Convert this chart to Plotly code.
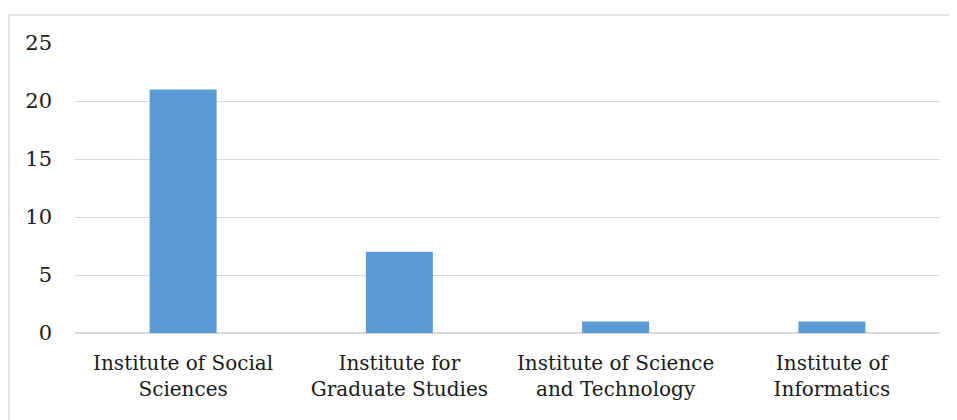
import plotly.graph_objects as go

institutes = [
    'Institute of Social<br>Sciences',
    'Institute for<br>Graduate Studies',
    'Institute of Science<br>and Technology',
    'Institute of<br>Informatics',
]
counts = [21, 7, 1, 1]
y_ticks = [0, 5, 10, 15, 20, 25]

FONT = 'DejaVu Serif'
GRID = '#d9d9d9'

fig = go.Figure(go.Bar(
    x=institutes,
    y=counts,
    marker=dict(color='#5b9bd5', line=dict(width=0)),
    width=0.31,
))

# page body has an 8px margin, so margins are offset to keep the plot area in place
fig.update_layout(
    width=957,
    height=420,
    margin=dict(l=67, r=25, t=35, b=95),
    paper_bgcolor='white',
    plot_bgcolor='white',
    font=dict(family=FONT, size=20, color='#1a1a1a'),
    showlegend=False,
    shapes=[dict(
        type='rect', xref='paper', yref='paper',
        x0=-0.0763, x1=1.2, y0=-0.6, y1=1.0966,
        line=dict(color=GRID, width=1.5), fillcolor='rgba(0,0,0,0)',
        layer='below',
    )],
)
fig.update_xaxes(
    showgrid=False,
    showline=False,
    ticks='',
    tickfont=dict(family=FONT, size=20),
    ticklabelstandoff=16,
)
fig.update_yaxes(
    range=[0, 25],
    tickvals=y_ticks,
    showgrid=True,
    gridcolor=GRID,
    gridwidth=1,
    zeroline=True,
    zerolinecolor=GRID,
    zerolinewidth=1.5,
    showline=False,
    ticks='',
    tickfont=dict(family=FONT, size=21),
    ticklabelstandoff=22,
)

fig.write_html('out.html')
